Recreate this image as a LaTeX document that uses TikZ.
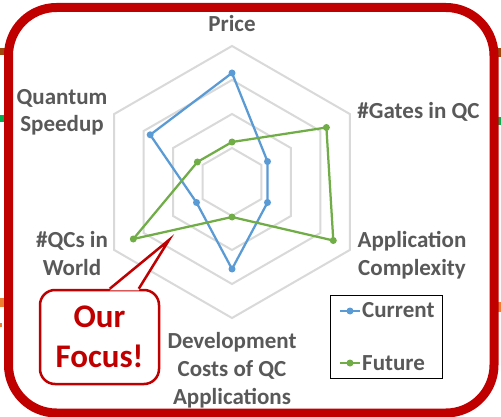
\documentclass[tikz,border=0pt]{standalone}
\usepackage{fontspec}
\setmainfont{Carlito}
\usetikzlibrary{calc}
\definecolor{cblue}{HTML}{5B9BD5}
\definecolor{cgreen}{HTML}{70AD47}
\definecolor{ringgray}{HTML}{D9D9D9}
\definecolor{dred}{HTML}{C00000}
\definecolor{txtgray}{HTML}{595959}
\definecolor{stubbrown}{HTML}{9E480E}
\definecolor{stubgreen}{HTML}{00B050}
\definecolor{stuborange}{HTML}{ED7D31}
\begin{document}
\begin{tikzpicture}[x=1pt,y=-1pt,
  lbl/.style={font=\fontsize{23}{28}\selectfont\bfseries, text=txtgray, align=center, inner sep=0pt, anchor=base},
  ringline/.style={draw=ringgray, line width=2pt},
  series/.style={line width=2.25pt, line join=round},
  dot/.style={circle, fill, inner sep=0pt, minimum size=7pt},
]
\useasboundingbox (0,0) rectangle (501,417);
% background stubs
\fill[stubbrown] (0,48) rectangle (6,55);
\fill[stubgreen] (0,115) rectangle (6,122);
\fill[stuborange] (0,298) rectangle (6,307);
\fill[stuborange] (0,323) rectangle (1.5,327);
\fill[stubbrown] (496,48) rectangle (501,57);
\fill[stubgreen] (496,117) rectangle (501,125);
\fill[stuborange] (496,302) rectangle (501,312);
% outer frame
\draw[dred, line width=9pt, rounded corners=48pt, fill=white] (8.5,7.5) rectangle (494,413);

% radar grid
\coordinate (C) at (232,182);
\foreach \r in {34,68,102,136}
  \draw[ringline, shift={(C)}] (90:\r) -- (30:\r) -- (-30:\r) -- (-90:\r) -- (-150:\r) -- (150:\r) -- cycle;

% current series
\coordinate (c1) at (232,73);
\coordinate (c2) at (267.5,161.5);
\coordinate (c3) at (267.5,202.5);
\coordinate (c4) at (232,269);
\coordinate (c5) at (196.5,202.5);
\coordinate (c6) at (150.2,134.8);
\draw[series, cblue] (c1) -- (c2) -- (c3) -- (c4) -- (c5) -- (c6) -- cycle;
\foreach \p in {c1,c2,c3,c4,c5,c6} \node[dot, fill=cblue] at (\p) {};

% future series
\coordinate (f1) at (232,142);
\coordinate (f2) at (326.4,127.5);
\coordinate (f3) at (333.3,240.5);
\coordinate (f4) at (232,217);
\coordinate (f5) at (133.3,239);
\coordinate (f6) at (197.4,162);
\draw[series, cgreen] (f1) -- (f2) -- (f3) -- (f4) -- (f5) -- (f6) -- cycle;
\foreach \p in {f1,f2,f3,f4,f5,f6} \node[dot, fill=cgreen] at (\p) {};

% axis labels (base anchor = baseline of last line)
\node[lbl] (price) at (232,32) {Price};
\node[lbl] (speedup) at (62,132) {Quantum\\Speedup};
\node[lbl] (gates) at (418.5,119) {\#Gates in QC};
\node[lbl] (qcs) at (72,275) {\#QCs in\\World};
\node[lbl] (appcx) at (412,275) {Application\\Complexity};
\node[lbl] (dev) at (232,404) {Development\\Costs of QC\\Applications};

% legend
\node[draw=black, line width=1.5pt, minimum width=112pt, minimum height=83pt, inner sep=0pt] (legend) at (386.5,337) {};
\coordinate (la1) at (340,311);
\coordinate (lb1) at (360,311);
\draw[series, cblue] (la1) -- (lb1);
\node[dot, fill=cblue] (lm1) at ($(la1)!0.5!(lb1)$) {};
\node[lbl, anchor=base west] (lcur) at (362,317) {Current};
\coordinate (la2) at (340,363);
\coordinate (lb2) at (360,363);
\draw[series, cgreen] (la2) -- (lb2);
\node[dot, fill=cgreen] (lm2) at ($(la2)!0.5!(lb2)$) {};
\node[lbl, anchor=base west] (lfut) at (362,370) {Future};

% callout
\node[draw=dred, line width=2.5pt, rounded corners=15pt, fill=white, minimum width=119pt, minimum height=94pt, inner sep=0pt, font=\fontsize{33}{40}\selectfont\bfseries, text=dred, align=center] (focus) at (99.5,337) {Our\\Focus!};
\coordinate (tip) at (169,240);
\fill[white] ($(focus.north west)+(71,1.5)$) -- (tip) -- ($(focus.north west)+(100,1.5)$) -- cycle;
\draw[dred, line width=2.5pt] ($(focus.north west)+(71,0)$) -- (tip) -- ($(focus.north west)+(100,0)$);
\end{tikzpicture}
\end{document}
